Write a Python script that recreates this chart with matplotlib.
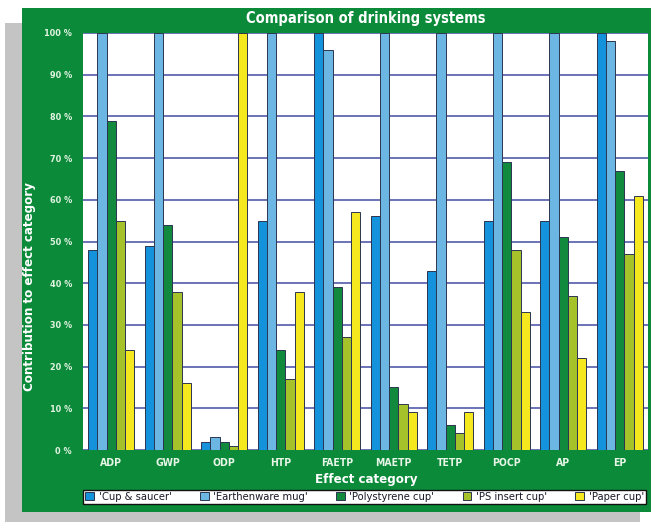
import matplotlib
matplotlib.use("Agg")
import matplotlib.pyplot as plt
from matplotlib.patches import Rectangle
import numpy as np

plt.rcParams['font.family'] = ['DejaVu Sans']
plt.rcParams['font.stretch'] = 'condensed'

categories = ["ADP", "GWP", "ODP", "HTP", "FAETP", "MAETP", "TETP", "POCP", "AP", "EP"]
series_names = ["'Cup & saucer'", "'Earthenware mug'", "'Polystyrene cup'",
                "'PS insert cup'", "'Paper cup'"]
cup_saucer = [48, 49, 2, 55, 100, 56, 43, 55, 55, 100]
earthenware_mug = [100, 100, 3, 100, 96, 100, 100, 100, 100, 98]
polystyrene_cup = [79, 54, 2, 24, 39, 15, 6, 69, 51, 67]
ps_insert_cup = [55, 38, 1, 17, 27, 11, 4, 48, 37, 47]
paper_cup = [24, 16, 100, 38, 57, 9, 9, 33, 22, 61]
y_ticks = [0, 10, 20, 30, 40, 50, 60, 70, 80, 90, 100]
y_tick_labels = [f"{t} %" for t in y_ticks]

series = [cup_saucer, earthenware_mug, polystyrene_cup, ps_insert_cup, paper_cup]
colors = ["#1592dc", "#6cb6e4", "#128a3e", "#a6c22a", "#f5e81e"]
panel_green = "#0b8a3a"

W, H = 653, 523
fig = plt.figure(figsize=(W / 100, H / 100), dpi=100, facecolor="white")


def px_rect(x0, y0, x1, y1, **kw):
    return Rectangle((x0 / W, 1 - y1 / H), (x1 - x0) / W, (y1 - y0) / H,
                     transform=fig.transFigure, **kw)


# drop shadow and green panel
fig.patches.append(px_rect(5, 23, 640, 522, facecolor="#c4c4c4", edgecolor="none", zorder=0))
fig.patches.append(px_rect(22, 8, 651, 512, facecolor=panel_green, edgecolor="none", zorder=1))

left, right, top, bottom = 83, 648, 33, 450
ax = fig.add_axes([left / W, 1 - bottom / H, (right - left) / W, (bottom - top) / H])
ax.set_facecolor("white")
ax.set_zorder(2)

x = np.arange(len(categories))
bw = 0.163
for i, (vals, c, name) in enumerate(zip(series, colors, series_names)):
    ax.bar(x + (i - 2) * bw, vals, width=bw, color=c, edgecolor="#2b3550",
           linewidth=0.7, label=name, zorder=3)

ax.set_xlim(-0.5, len(categories) - 0.5)
ax.set_ylim(0, 100)
ax.set_yticks(y_ticks)
ax.set_yticklabels(y_tick_labels)
ax.set_xticks(x)
ax.set_xticklabels(categories)
ax.yaxis.grid(True, color="#6068b0", linewidth=1.3, zorder=1)
ax.set_axisbelow(True)
for s in ax.spines.values():
    s.set_visible(False)
ax.tick_params(axis="both", length=0)
ax.tick_params(axis="y", pad=8, labelsize=6.5, labelcolor="#e2f4e2")
ax.tick_params(axis="x", pad=6, labelsize=7.5, labelcolor="#e8f6e8")
for lbl in ax.get_xticklabels() + ax.get_yticklabels():
    lbl.set_fontweight("bold")

fig.text(366 / W, 1 - 18 / H, "Comparison of drinking systems", ha="center", va="center",
         color="white", fontsize=10.5, fontweight="bold", zorder=5)
fig.text(366 / W, 1 - 479 / H, "Effect category", ha="center", va="center",
         color="white", fontsize=9.5, fontweight="bold", zorder=5)
fig.text(30 / W, 1 - 287 / H, "Contribution to effect category", ha="center", va="center",
         rotation=90, color="white", fontsize=9.5, fontweight="bold", zorder=5)

leg = fig.legend(loc="center", ncol=5, mode="expand",
                 bbox_to_anchor=(83 / W, 1 - 505 / H, 563 / W, 16 / H),
                 fontsize=8, frameon=True, fancybox=False, edgecolor="#111111",
                 facecolor="white", framealpha=1.0,
                 handlelength=0.8, handleheight=0.8, handletextpad=0.4,
                 borderpad=0.2, borderaxespad=0, columnspacing=1.0)
leg.get_frame().set_linewidth(1.0)
for t in leg.get_texts():
    t.set_color("#1a1a2a")
leg.set_zorder(5)

fig.savefig("out.png", dpi=100, facecolor="white")
